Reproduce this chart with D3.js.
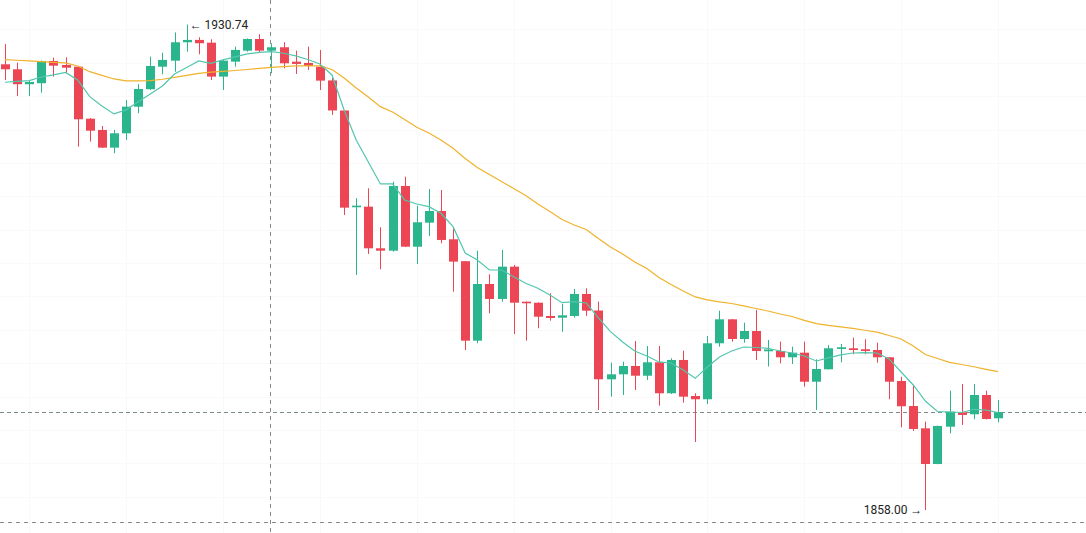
<!DOCTYPE html>
<html>
<head>
<meta charset="utf-8">
<script src="https://cdn.jsdelivr.net/npm/d3@7"></script>
<style>
html,body{margin:0;padding:0;background:#fff;}
svg{display:block;}
</style>
</head>
<body>
<svg id="chart" width="1086" height="533"></svg>
<script>
// ---- data ----
const opens = [1924.78,1924.03,1921.79,1921.94,1925.28,1924.68,1924.42,1916.63,1914.94,1912.29,
1914.44,1918.43,1921.04,1924.42,1925.32,1928.08,1928.43,1928.02,1922.93,1925.17,
1926.82,1928.57,1926.82,1927.33,1925.17,1924.98,1924.42,1922.36,1917.86,1903.36,
1903.45,1897.21,1896.85,1906.55,1897.45,1901.05,1902.80,1898.56,1895.28,1883.37,
1891.86,1889.62,1894.46,1889.21,1889.06,1887.07,1886.81,1887.07,1890.37,1887.89,
1877.58,1878.33,1879.58,1878.12,1880.13,1875.49,1880.48,1875.08,1874.59,1882.98,
1886.57,1883.62,1884.82,1881.78,1881.82,1880.88,1881.57,1877.22,1879.08,1882.12,
1882.23,1882.08,1881.97,1880.88,1877.33,1873.58,1870.24,1864.89,1870.48,1872.64,
1872.34,1875.23,1871.74];
const highs = [1927.83,1925.02,1922.43,1925.35,1925.77,1925.83,1924.53,1916.74,1915.54,1914.94,
1919.43,1921.79,1925.92,1926.52,1929.55,1930.74,1928.83,1928.53,1925.40,1927.42,
1928.65,1929.28,1927.93,1928.08,1926.82,1927.42,1926.93,1922.73,1917.94,1904.71,
1906.20,1900.36,1907.19,1907.94,1903.60,1906.10,1905.95,1900.21,1895.31,1896.85,
1893.32,1896.96,1894.71,1889.24,1889.09,1890.47,1888.87,1891.12,1891.22,1889.21,
1880.07,1880.22,1883.32,1882.57,1882.57,1880.73,1881.87,1875.49,1884.07,1887.86,
1886.62,1886.07,1887.97,1883.47,1883.22,1882.47,1883.22,1880.58,1882.72,1882.87,
1883.82,1883.58,1883.07,1880.93,1877.97,1876.58,1871.23,1870.65,1875.88,1876.88,
1876.88,1875.88,1874.48];
const lows = [1922.43,1920.03,1920.03,1920.53,1922.93,1923.44,1912.44,1913.19,1912.24,1911.45,
1913.44,1917.44,1920.93,1923.29,1923.67,1926.67,1926.28,1922.43,1920.93,1924.42,
1926.67,1926.58,1923.44,1924.18,1923.33,1923.93,1920.93,1917.19,1902.20,1893.21,
1896.36,1894.07,1896.70,1897.41,1894.86,1899.06,1897.96,1890.71,1881.97,1882.98,
1887.47,1889.21,1884.37,1883.37,1885.23,1886.37,1884.72,1886.81,1887.07,1872.98,
1874.98,1875.23,1875.98,1877.48,1873.63,1875.38,1874.08,1868.19,1873.88,1882.47,
1883.22,1883.07,1880.48,1879.50,1879.98,1879.88,1876.48,1872.98,1879.05,1880.13,
1881.33,1881.33,1880.07,1874.59,1870.39,1869.84,1858.00,1864.85,1869.49,1870.74,
1871.59,1871.56,1871.14];
const closes = [1924.03,1921.79,1922.13,1925.28,1924.57,1924.27,1916.54,1914.83,1912.29,1914.44,
1918.43,1921.08,1924.53,1925.43,1928.08,1928.43,1927.93,1922.93,1925.32,1926.93,
1928.57,1926.82,1927.33,1924.93,1924.83,1924.53,1922.33,1917.86,1903.30,1903.60,
1897.21,1896.85,1906.55,1897.45,1901.11,1902.80,1898.46,1895.21,1883.37,1891.86,
1889.62,1894.46,1889.06,1888.97,1886.96,1886.77,1887.17,1890.37,1887.86,1877.58,
1878.33,1879.58,1878.12,1880.13,1875.49,1880.48,1874.98,1874.59,1882.98,1886.57,
1883.62,1884.82,1881.82,1882.05,1880.88,1881.57,1877.22,1879.13,1882.23,1882.38,
1881.97,1881.82,1880.88,1877.22,1873.54,1870.14,1864.89,1870.59,1872.73,1872.24,
1875.23,1871.64,1872.68];
const maFast = [1922.09,1922.21,1922.33,1922.88,1923.18,1923.56,1922.43,1919.93,1918.54,1917.34,
1917.94,1919.18,1920.33,1921.53,1923.33,1924.30,1925.28,1924.93,1925.43,1925.88,
1926.33,1926.55,1926.67,1926.43,1926.03,1925.50,1924.83,1923.18,1917.94,1913.44,
1910.14,1906.85,1906.85,1904.45,1903.85,1903.45,1902.46,1900.45,1896.51,1895.46,
1893.96,1893.96,1892.96,1891.97,1891.22,1890.22,1889.06,1889.21,1889.02,1886.77,
1884.72,1883.17,1881.82,1881.08,1880.18,1880.03,1878.98,1877.73,1879.43,1880.93,
1881.82,1882.42,1882.35,1882.23,1881.82,1881.52,1881.08,1880.33,1880.78,1881.23,
1881.52,1881.57,1881.52,1880.63,1878.68,1876.73,1874.33,1872.76,1872.68,1872.61,
1873.09,1872.98,1872.58];
const maSlow = [1925.49,1925.38,1925.28,1925.19,1925.08,1924.98,1924.53,1923.67,1923.11,1922.58,
1922.28,1922.28,1922.33,1922.54,1922.81,1923.11,1923.42,1923.59,1923.73,1923.85,
1924.00,1924.17,1924.32,1924.44,1924.53,1924.56,1924.53,1924.00,1922.73,1921.23,
1919.88,1918.43,1917.64,1916.51,1915.34,1914.49,1913.44,1912.20,1910.67,1909.32,
1908.27,1907.22,1906.17,1905.12,1903.85,1902.73,1901.53,1900.70,1900.03,1898.68,
1897.41,1896.36,1895.16,1894.19,1892.84,1891.79,1890.82,1889.92,1889.47,1889.17,
1888.94,1888.57,1888.19,1887.82,1887.37,1886.99,1886.40,1885.92,1885.65,1885.45,
1885.20,1884.93,1884.64,1884.15,1883.62,1882.57,1881.30,1880.70,1880.13,1879.80,
1879.46,1879.08,1878.72];
const maxLabel = "1930.74";
const minLabel = "1858.00";

// ---- build ----
const W = 1086, H = 533;
const idx = d3.range(opens.length);
const candles = idx.map(i => ({i, o: opens[i], h: highs[i], l: lows[i], c: closes[i]}));

const svg = d3.select("#chart");
const step = 12.11;
const x = d3.scaleBand().domain(idx).range([5 - step/2, 5 - step/2 + step*idx.length]).padding(0);
const cx = i => x(i) + x.bandwidth()/2;
const y = d3.scaleLinear().domain([1858, 1930.74]).range([510, 24.5]);

const UP = "#2bb58c", DOWN = "#ec4654";

// faint grid
const grid = svg.append("g");
grid.selectAll("line.h").data(d3.range(1860, 1935, 5)).join("line")
  .attr("x1", 0).attr("x2", W)
  .attr("y1", d => Math.round(y(d)) + 0.5).attr("y2", d => Math.round(y(d)) + 0.5)
  .attr("stroke", "#f9f9f9").attr("stroke-width", 1);
grid.selectAll("line.v").data(idx.filter(i => i % 8 === 2)).join("line")
  .attr("x1", d => Math.round(cx(d)) + 0.5).attr("x2", d => Math.round(cx(d)) + 0.5)
  .attr("y1", 0).attr("y2", H)
  .attr("stroke", "#f9f9f9").attr("stroke-width", 1);

// dashed reference lines
svg.append("line").attr("x1", 0).attr("x2", W).attr("y1", 522.5).attr("y2", 522.5)
  .attr("stroke", "#8a8a8a").attr("stroke-dasharray", "4,4");
const lastClose = closes[closes.length - 1];
svg.append("line").attr("x1", 0).attr("x2", W)
  .attr("y1", Math.round(y(lastClose)) + 0.5).attr("y2", Math.round(y(lastClose)) + 0.5)
  .attr("stroke", "#7f8c8d").attr("stroke-dasharray", "4,3");
const crossIdx = 22;
svg.append("line").attr("x1", Math.round(cx(crossIdx)) - 0.5).attr("x2", Math.round(cx(crossIdx)) - 0.5)
  .attr("y1", 0).attr("y2", H)
  .attr("stroke", "#888").attr("stroke-dasharray", "4,4");

// candles
const g = svg.append("g");
const bw = 9;
g.selectAll("line.wick").data(candles).join("line")
  .attr("x1", d => Math.round(cx(d.i)) + 0.5).attr("x2", d => Math.round(cx(d.i)) + 0.5)
  .attr("y1", d => y(d.h)).attr("y2", d => y(d.l))
  .attr("stroke", d => d.c >= d.o ? UP : DOWN).attr("stroke-width", 1);
g.selectAll("rect.body").data(candles).join("rect")
  .attr("x", d => Math.round(cx(d.i)) + 0.5 - bw/2)
  .attr("width", bw)
  .attr("y", d => y(Math.max(d.o, d.c)))
  .attr("height", d => Math.max(1.5, Math.abs(y(d.o) - y(d.c))))
  .attr("fill", d => d.c >= d.o ? UP : DOWN);

// moving averages
const line = arr => d3.line().x((d, i) => cx(i)).y(d => y(d)).curve(d3.curveLinear)(arr);
svg.append("path").attr("d", line(maSlow)).attr("fill", "none")
  .attr("stroke", "#f0b22b").attr("stroke-width", 1.2);
svg.append("path").attr("d", line(maFast)).attr("fill", "none")
  .attr("stroke", "#52c6ae").attr("stroke-width", 1.2);

// max / min labels
const maxI = d3.maxIndex(highs), minI = d3.minIndex(lows);
svg.append("text").attr("x", cx(maxI) + 3).attr("y", y(highs[maxI]) + 4)
  .attr("font-family", "Roboto, 'Liberation Sans', Arial, sans-serif").attr("font-size", 12)
  .attr("fill", "#222").text("\u2190 " + maxLabel);
svg.append("text").attr("x", cx(minI) - 3).attr("y", y(lows[minI]) + 4)
  .attr("text-anchor", "end")
  .attr("font-family", "Roboto, 'Liberation Sans', Arial, sans-serif").attr("font-size", 12)
  .attr("fill", "#222").text(minLabel + " \u2192");
</script>
</body>
</html>
